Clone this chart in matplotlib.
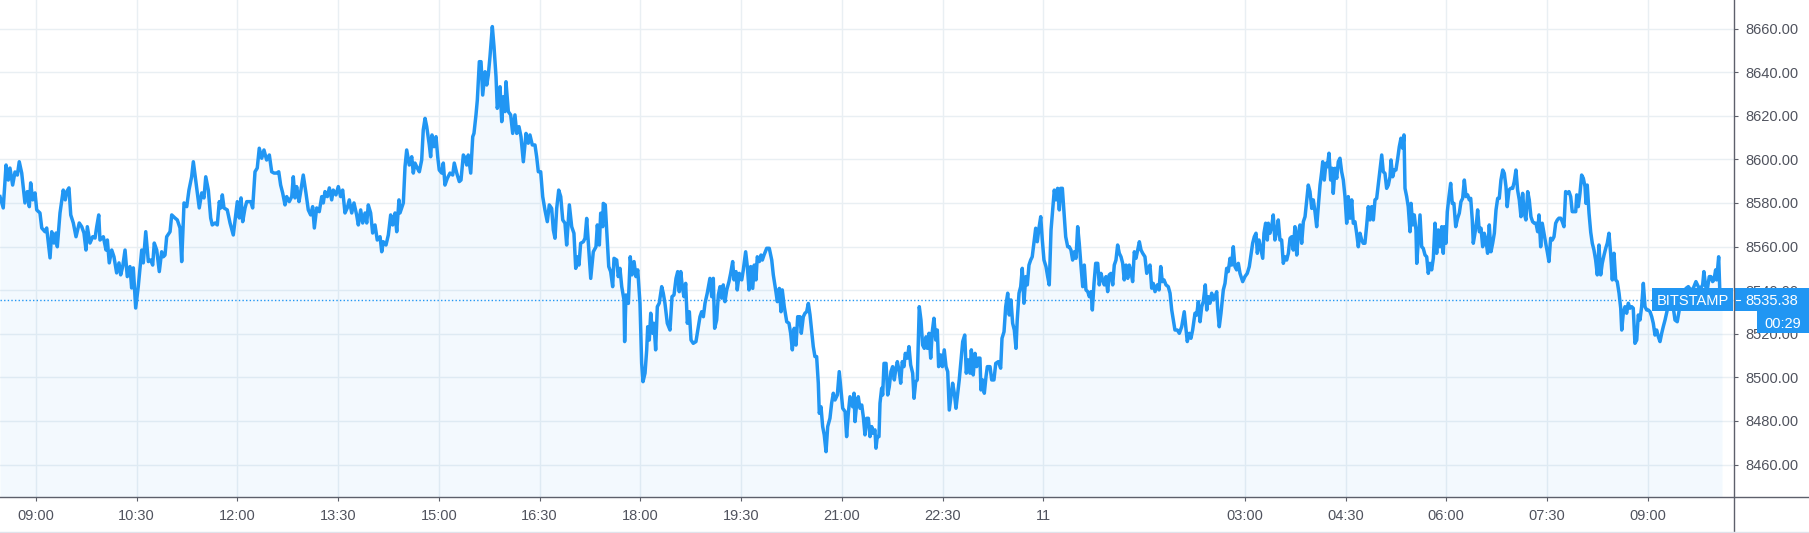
import matplotlib.pyplot as plt
import matplotlib.transforms as mtransforms
from matplotlib.patches import Rectangle
from matplotlib.lines import Line2D

# minutes after 08:28 on the 10th, BTC/USD price (Bitstamp)
minutes = [
    0, 2.9, 5.4, 7.4, 8.9, 11.3, 13.4, 15.5, 17.2, 19.4,
    22.3, 24.4, 26.2, 27.4, 29.2, 31.3, 32.8, 35.7, 37.3, 40.2,
    41.7, 44.7, 46.2, 48.2, 50.0, 51.2, 53.6, 56.5, 58.3, 59.6,
    61.6, 63.2, 65.5, 67.9, 70.8, 73.0, 75.0, 76.8, 78.0, 80.4,
    82.8, 84.9, 86.4, 88.2, 89.3, 92.3, 94.7, 95.9, 97.6, 99.8,
    101.8, 104.2, 106.3, 107.8, 109.6, 111.7, 113.7, 116.1, 117.6, 119.1,
    121.2, 123.5, 126.6, 128.0, 130.2, 132.5, 134.6, 136.4, 137.8, 140.0,
    142.3, 144.4, 145.9, 147.4, 148.9, 151.9, 153.4, 156.3, 158.4, 160.8,
    162.3, 164.4, 166.8, 168.8, 171.2, 172.7, 175.1, 178.0, 180.2, 182.2,
    183.8, 186.1, 188.2, 189.6, 192.1, 194.1, 195.9, 197.2, 198.6, 200.1,
    203.0, 205.5, 208.4, 210.8, 212.0, 213.8, 215.3, 216.8, 218.9, 220.4,
    224.0, 225.7, 227.8, 229.8, 231.6, 233.8, 235.8, 238.2, 240.6, 242.7,
    244.8, 247.2, 249.0, 250.7, 252.5, 254.6, 256.1, 258.4, 260.6, 262.0,
    263.5, 265.0, 267.1, 268.6, 270.9, 273.3, 275.4, 277.5, 279.3, 280.8,
    282.9, 285.2, 287.4, 288.8, 290.3, 292.4, 294.2, 296.3, 297.7, 300.1,
    302.2, 304.3, 306.1, 308.2, 310.2, 312.0, 314.2, 316.2, 318.6, 320.1,
    322.2, 324.0, 326.1, 327.6, 329.0, 331.1, 332.9, 335.0, 337.0, 339.5,
    341.0, 342.4, 344.8, 346.9, 349.0, 350.8, 352.9, 354.4, 356.4,
    357.3, 360.3, 361.8, 363.3, 365.6, 367.8, 369.2, 370.7, 372.8, 374.6,
    376.7, 378.1, 379.7, 381.2, 383.5, 384.7, 385.9, 387.7, 389.5, 391.0,
    392.4, 394.6, 396.0, 397.5, 399.6, 402.0, 404.4, 405.8, 408.0, 410.3,
    411.8, 413.9, 415.6, 416.9, 418.3, 420.5, 422.3, 423.4, 425.2, 426.4,
    428.2, 429.7, 431.2, 433.3, 434.8, 436.2, 437.7, 439.8, 441.3, 443.1,
    444.2, 445.8, 446.7, 448.2, 449.6, 451.1, 452.0, 454.1, 456.2, 458.0,
    460.0, 461.6, 463.6, 465.4, 467.5, 469.9, 471.9, 473.4, 475.5, 477.9,
    479.4, 480.9, 483.0, 484.8, 486.8, 488.9, 490.7, 492.8, 494.3, 495.8,
    497.3, 499.1, 500.9, 502.7, 504.7, 506.2, 508.6, 510.7, 512.7, 514.3,
    515.7, 517.2, 518.7, 521.1, 522.6, 524.1, 525.5, 527.7, 530.0, 532.4,
    533.6, 535.4, 536.6, 538.4, 538.9, 540.7, 542.5, 543.8, 545.5, 547.3,
    548.5, 550.9, 552.3, 553.8, 555.4, 557.4, 558.0, 559.2, 561.3, 563.0,
    564.6, 566.4, 568.1, 569.7, 571.7, 573.2, 574.4, 576.2, 577.7, 578.6,
    580.0, 581.3, 583.0, 584.2, 585.7, 587.2, 588.9, 591.1, 592.5, 594.0,
    596.1, 598.5, 600.3, 602.1, 603.9, 605.4, 606.8, 608.1, 609.5, 611.0,
    612.5, 614.0, 615.8, 617.3, 619.3, 621.7, 623.8, 625.3, 626.8, 628.3,
    629.8, 631.8, 634.2, 635.8, 637.2, 638.4, 640.2, 641.7, 643.2, 644.7,
    646.1, 647.6, 649.2, 651.2, 652.7, 654.5, 655.7, 657.5, 658.6, 660.4,
    662.6, 664.0, 666.1, 667.6, 669.1, 670.6, 672.4, 673.8, 675.3, 676.5,
    678.3, 679.8, 681.0, 682.5, 684.9, 687.2, 689.4, 690.8, 692.9, 694.4,
    696.2, 697.7, 698.8, 700.6, 702.8, 704.8, 706.3, 707.8, 709.5, 711.1,
    712.6, 714.6, 715.8, 717.6, 719.1, 720.6, 722.1, 723.6, 725.1, 726.5,
    728.0, 729.5, 731.0, 731.9, 733.4, 734.9, 736.3, 737.9, 739.4, 741.4,
    742.9, 744.4, 745.9, 748.0, 749.7, 751.3, 752.8, 754.9, 756.3, 757.8, 759.3,
    761.7, 762.9, 763.8, 765.3, 766.7, 768.2, 769.8, 771.2, 772.7, 774.2,
    775.7, 777.2, 778.7, 780.1, 781.6, 782.5, 783.7, 785.2, 786.1, 787.6,
    788.5, 789.7, 791.5, 793.0, 794.4, 795.9, 797.4, 798.9, 800.1, 801.6,
    803.3, 804.6, 806.0, 807.5, 808.7, 810.5, 812.0, 813.5, 815.3, 816.5,
    818.0, 819.4, 821.2, 822.7, 824.2, 825.7, 827.2, 828.4, 829.9, 831.4,
    832.8, 834.3, 835.9, 837.3, 838.5, 840.3, 841.8, 843.5, 845.1, 846.6,
    848.0, 849.5, 851.0, 852.5, 854.0, 855.5, 856.9, 858.5, 860.0, 861.8,
    863.2, 865.0, 866.5, 867.7, 869.4, 871.0, 872.5, 873.9, 875.4, 876.3,
    877.8, 879.3, 880.8, 882.0, 884.4, 885.9, 887.9, 889.5, 891.8, 893.9,
    895.1, 896.9, 898.4, 900.2, 901.6, 903.1, 904.6, 906.1, 907.6, 908.7,
    910.3, 911.8, 913.2, 914.7, 916.3, 917.7, 919.2, 920.7, 922.1, 923.6,
    925.2, 926.6, 928.1, 929.7, 931.1, 932.6, 934.4, 935.9, 937.3, 938.9,
    940.4, 941.8, 943.3, 944.8, 946.3, 947.5, 949.0, 950.5, 952.0, 953.8,
    955.2, 956.7, 958.2, 959.7, 961.2, 962.7, 964.1, 965.7, 967.2, 968.6,
    970.1, 971.7, 973.1, 974.6, 975.8, 977.3, 978.8, 980.6, 982.0, 983.5,
    985.0, 986.5, 988.0, 989.5, 990.9, 992.5, 994.0, 995.4, 996.9, 998.4,
    999.9, 1001.4, 1002.9, 1004.3, 1005.9, 1007.4, 1008.8, 1010.3, 1011.8, 1013.3,
    1014.8, 1016.3, 1017.8, 1019.3, 1020.8, 1022.8, 1024.4, 1025.8, 1027.3, 1028.8,
    1030.2, 1031.8, 1033.8, 1035.4, 1036.9, 1038.3, 1039.8, 1041.6, 1043.6, 1045.2,
    1046.7, 1048.1, 1049.6, 1051.7, 1053.5, 1055.6, 1057.9, 1059.5, 1060.6, 1062.4,
    1063.9, 1065.4, 1067.5, 1069.0, 1070.5, 1072.0, 1073.5, 1074.9, 1076.7, 1078.0,
    1079.4, 1080.9, 1082.4, 1083.9, 1085.4, 1086.9, 1087.8, 1089.2, 1090.7, 1092.8,
    1094.3, 1095.8, 1097.2, 1098.8, 1100.3, 1101.7, 1103.2, 1104.7, 1106.2, 1107.7,
    1110.1, 1112.1, 1114.2, 1116.0, 1117.5, 1119.0, 1120.5, 1122.0, 1123.2, 1124.7,
    1126.2, 1128.0, 1129.1, 1130.6, 1132.1, 1133.0, 1134.5, 1136.0, 1137.4, 1138.9,
    1140.4, 1141.9, 1143.4, 1144.9, 1146.4, 1147.9, 1149.4, 1150.9, 1152.4, 1153.9,
    1155.3, 1156.8, 1158.4, 1159.8, 1161.3, 1162.8, 1164.3, 1165.8, 1167.3, 1168.7,
    1170.2, 1171.8, 1173.2, 1174.7, 1176.2, 1177.6, 1179.2, 1180.7, 1181.6, 1183.0,
    1184.5, 1185.7, 1187.2, 1188.7, 1190.1, 1191.0, 1192.6, 1194.1, 1195.5, 1197.0,
    1198.5, 1200.0, 1201.5, 1203.0, 1204.4, 1206.0, 1207.5, 1208.9, 1210.4, 1211.9,
    1213.4, 1214.9, 1216.4, 1217.8, 1219.3, 1220.9, 1222.3, 1223.8, 1225.3, 1226.8,
    1228.3, 1229.8, 1231.2, 1232.8, 1234.3, 1235.7, 1237.2, 1238.7, 1240.2, 1241.7,
    1242.6, 1244.1, 1245.5, 1247.0, 1248.6, 1250.0, 1251.5, 1253.0, 1254.2, 1255.1,
    1256.6, 1258.0, 1259.6, 1260.5, 1262.0, 1263.4, 1264.9, 1265.6, 1267.0, 1268.5,
    1270.0, 1271.4, 1273.0, 1274.5, 1275.9, 1277.4, 1278.9, 1280.4, 1281.9, 1283.4,
    1284.8, 1286.4, 1287.9, 1289.3, 1290.2, 1291.7, 1292.9, 1294.4, 1295.9, 1297.3,
    1298.8, 1300.4, 1302.1, 1303.6, 1305.1, 1306.6, 1308.1, 1309.6, 1311.1, 1312.5,
    1313.8, 1315.2, 1316.1, 1317.6, 1319.2, 1320.0, 1321.5, 1323.0, 1324.5, 1325.9,
    1327.4, 1328.9, 1330.4, 1331.9, 1333.4, 1334.9, 1336.4, 1337.9, 1339.3, 1340.8,
    1342.4, 1343.8, 1345.3, 1346.4, 1348.0, 1349.5, 1351.3, 1352.7, 1354.2, 1355.7,
    1357.2, 1358.7, 1360.2, 1361.6, 1363.1, 1364.7, 1366.1, 1367.6, 1369.1, 1370.6,
    1372.1, 1373.6, 1374.8, 1376.3, 1377.7, 1379.2, 1380.8, 1382.2, 1383.7, 1385.2,
    1386.7, 1388.2, 1389.7, 1391.2, 1392.6, 1394.2, 1395.6, 1397.1, 1398.6, 1400.1,
    1401.6, 1403.1, 1404.5, 1406.1, 1407.6, 1408.5, 1409.9, 1411.4, 1412.9, 1414.4,
    1415.9, 1416.8, 1417.9, 1419.5, 1421.0, 1422.4, 1423.9, 1425.4, 1426.9, 1428.4,
    1429.9, 1431.3, 1432.9, 1434.4, 1435.8, 1437.3, 1438.8, 1440.3, 1441.8, 1443.3,
    1444.7, 1446.3, 1447.8, 1448.7, 1450.1, 1451.6, 1453.1, 1454.6, 1456.1, 1457.6,
    1459.0, 1460.5, 1462.1, 1463.5, 1465.0, 1466.5, 1468.0, 1469.5, 1471.0, 1472.4,
    1474.0, 1475.5, 1476.9, 1478.4, 1479.9, 1481.4, 1482.9, 1484.4, 1485.8, 1487.4,
    1489.4, 1491.8, 1494.2, 1496.3, 1498.3, 1500.1, 1502.3, 1504.3, 1506.1, 1508.2,
    1510.3, 1512.6, 1515.0, 1517.1, 1519.2, 1521.0, 1522.1, 1523.7, 1525.1, 1526.9,
    1528.4, 1529.9, 1531.1, 1532.6, 1533.5, 1535.3, 1536.4, 1538.3,
]

price = [
    8582.9, 8577.7, 8597.4, 8590.5, 8596.0, 8588.2, 8594.2, 8592.8, 8598.9, 8593.7,
    8580.0, 8585.2, 8578.3, 8589.2, 8581.4, 8584.6, 8576.8, 8575.4, 8568.5, 8566.8,
    8568.5, 8554.8, 8566.8, 8561.6, 8566.2, 8559.9, 8575.4, 8585.9, 8581.4, 8585.2,
    8586.9, 8574.5, 8570.8, 8564.5, 8570.8, 8569.1, 8566.2, 8558.4, 8569.1, 8561.6,
    8564.5, 8563.9, 8569.1, 8574.5, 8563.0, 8564.5, 8558.4, 8563.0, 8552.5, 8558.4,
    8555.3, 8547.9, 8552.5, 8547.0, 8550.8, 8558.4, 8546.2, 8550.8, 8541.0, 8550.2,
    8531.8, 8541.6, 8558.4, 8552.5, 8566.8, 8553.1, 8553.8, 8551.5, 8561.6, 8558.4,
    8548.5, 8557.6, 8555.3, 8556.1, 8564.5, 8566.8, 8574.5, 8573.1, 8572.2, 8568.5,
    8553.1, 8580.0, 8578.3, 8585.9, 8592.0, 8598.9, 8589.2, 8577.7, 8584.6, 8582.3,
    8592.0, 8585.9, 8573.1, 8569.9, 8570.8, 8569.9, 8580.6, 8577.7, 8583.7, 8577.7,
    8576.8, 8570.8, 8565.3, 8575.4, 8580.6, 8573.1, 8582.3, 8571.4, 8577.7, 8580.6,
    8580.6, 8577.7, 8594.3, 8596.0, 8605.1, 8600.5, 8604.3, 8599.7, 8602.0, 8594.3,
    8593.7, 8593.7, 8594.3, 8588.2, 8584.6, 8579.1, 8582.9, 8580.6, 8582.9, 8592.0,
    8582.3, 8587.5, 8580.6, 8585.2, 8592.8, 8584.6, 8576.8, 8574.5, 8578.3, 8568.5,
    8577.7, 8576.0, 8582.9, 8580.0, 8585.2, 8582.9, 8586.9, 8581.4, 8585.9, 8583.7,
    8587.5, 8582.9, 8585.9, 8575.4, 8577.7, 8581.4, 8575.4, 8580.0, 8574.5, 8569.9,
    8576.8, 8570.8, 8575.4, 8570.8, 8579.1, 8575.4, 8566.2, 8569.9, 8563.0, 8564.5,
    8557.6, 8562.2, 8560.7, 8565.3, 8574.5, 8569.9, 8575.4, 8566.8, 8581.4,
    8575.4, 8580.0, 8596.6, 8604.3, 8597.4, 8601.2, 8593.7, 8598.3, 8596.0, 8594.3,
    8599.7, 8613.5, 8618.8, 8615.0, 8606.6, 8601.2, 8611.2, 8605.8, 8610.4, 8601.2,
    8595.1, 8593.7, 8598.3, 8588.2, 8591.3, 8593.7, 8592.8, 8598.3, 8593.7, 8589.8,
    8590.5, 8602.0, 8600.5, 8597.4, 8602.0, 8593.7, 8610.4, 8611.9, 8620.4, 8627.2,
    8644.8, 8644.8, 8629.5, 8640.2, 8634.1, 8638.7, 8647.1, 8660.9, 8651.7, 8637.9,
    8623.4, 8627.2, 8633.3, 8617.3, 8628.7, 8621.9, 8635.6, 8621.9, 8620.4, 8611.9,
    8620.4, 8611.9, 8615.0, 8610.4, 8598.9, 8611.9, 8607.4, 8611.2, 8606.6, 8606.6,
    8601.2, 8594.3, 8594.3, 8582.9, 8576.8, 8571.4, 8579.1, 8577.5, 8567.6, 8563.8,
    8577.5, 8585.9, 8582.9, 8572.2, 8570.7, 8560.7, 8579.1, 8569.1, 8566.1, 8550.0,
    8555.3, 8551.5, 8561.5, 8562.2, 8563.8, 8572.9, 8562.2, 8545.4, 8557.6, 8559.9,
    8569.9, 8560.7, 8575.3, 8569.1, 8579.8, 8579.1, 8563.0, 8550.8, 8548.5, 8541.6,
    8554.6, 8553.8, 8546.2, 8550.0, 8541.6, 8535.5, 8516.4, 8537.8, 8533.9, 8555.3,
    8547.0, 8553.1, 8546.2, 8549.3, 8534.0, 8506.4, 8498.0, 8501.9, 8512.6, 8523.2,
    8517.1, 8529.4, 8520.2, 8524.8, 8512.6, 8532.4, 8534.0, 8541.6, 8538.6, 8534.0,
    8524.8, 8521.7, 8537.0, 8537.8, 8545.4, 8548.5, 8539.3, 8548.5, 8541.6, 8537.0,
    8543.1, 8524.8, 8530.1, 8517.1, 8515.6, 8516.4, 8523.2, 8527.8, 8530.1, 8527.8,
    8534.0, 8538.6, 8545.4, 8537.0, 8545.4, 8522.5, 8526.3, 8537.8, 8541.6, 8536.3,
    8542.4, 8534.7, 8540.1, 8543.9, 8547.7, 8553.1, 8544.7, 8548.5, 8540.1, 8547.7,
    8544.7, 8549.3, 8557.6, 8550.8, 8540.1, 8550.8, 8540.8, 8551.5, 8544.7, 8555.3,
    8553.1, 8556.1, 8553.8, 8556.1, 8559.2, 8559.2, 8553.8, 8547.0, 8540.1, 8534.7,
    8540.8, 8530.1, 8540.1, 8532.4, 8525.5, 8524.8, 8520.2, 8512.6, 8522.5, 8514.8,
    8527.8, 8527.8, 8520.2, 8527.8, 8529.4, 8530.1, 8533.9, 8528.6, 8520.9, 8514.1,
    8509.5, 8509.5, 8497.3, 8483.5, 8486.5, 8477.4, 8473.6, 8465.9, 8477.4, 8481.2,
    8488.1, 8492.7, 8489.6, 8491.9, 8502.6, 8493.7, 8485.8, 8484.3, 8472.8, 8483.5, 8491.1,
    8486.5, 8492.7, 8479.7, 8488.1, 8491.1, 8485.8, 8487.3, 8481.9, 8473.6, 8481.2,
    8481.2, 8472.8, 8477.4, 8474.3, 8475.9, 8467.5, 8472.8, 8472.8, 8488.1, 8495.0,
    8491.9, 8506.4, 8506.4, 8491.9, 8495.7, 8502.6, 8504.9, 8498.8, 8503.4, 8507.2,
    8502.6, 8497.3, 8507.2, 8504.9, 8511.0, 8508.8, 8514.1, 8505.7, 8501.9, 8490.4,
    8498.0, 8498.8, 8532.4, 8526.3, 8514.8, 8513.3, 8518.6, 8513.3, 8520.2, 8508.8,
    8520.9, 8527.1, 8517.1, 8521.7, 8504.9, 8510.3, 8504.9, 8512.6, 8504.9, 8502.6,
    8485.0, 8491.1, 8497.3, 8492.7, 8485.8, 8492.7, 8498.8, 8508.0, 8516.4, 8519.4,
    8501.9, 8508.0, 8501.9, 8512.6, 8501.1, 8511.0, 8504.9, 8508.8, 8508.8, 8494.2,
    8498.8, 8492.7, 8500.3, 8504.9, 8504.9, 8498.8, 8498.8, 8506.4, 8507.2, 8504.2,
    8517.9, 8520.9, 8532.4, 8538.6, 8528.6, 8535.5, 8524.8, 8521.7, 8513.3, 8526.3,
    8538.6, 8541.6, 8550.0, 8534.0, 8546.2, 8542.4, 8551.5, 8553.8, 8555.3, 8561.5,
    8568.4, 8562.2, 8568.4, 8573.7, 8563.0, 8553.8, 8550.8, 8546.2, 8542.4, 8567.6,
    8576.8, 8585.9, 8581.4, 8586.7, 8576.8, 8586.7, 8586.7, 8575.3, 8564.5, 8559.9,
    8559.9, 8558.4, 8553.8, 8557.6, 8554.6, 8569.1, 8561.5, 8550.8, 8541.6, 8551.5,
    8540.1, 8539.3, 8537.0, 8539.3, 8530.9, 8543.1, 8552.3, 8552.3, 8542.4, 8547.7,
    8544.7, 8542.4, 8546.2, 8539.3, 8547.0, 8547.7, 8542.4, 8551.5, 8553.8, 8560.7,
    8556.9, 8555.3, 8552.3, 8544.7, 8551.5, 8545.4, 8551.5, 8548.5, 8543.9, 8557.6,
    8554.6, 8558.4, 8562.2, 8558.4, 8556.9, 8555.3, 8547.7, 8550.0, 8551.5, 8540.9,
    8543.1, 8539.3, 8542.4, 8540.1, 8550.8, 8543.9, 8544.7, 8542.4, 8541.6, 8538.6,
    8530.9, 8526.3, 8521.7, 8521.7, 8520.2, 8523.2, 8530.1, 8521.7, 8516.4, 8520.2,
    8517.9, 8521.7, 8529.4, 8528.6, 8534.7, 8525.5, 8532.4, 8534.7, 8542.4, 8530.9,
    8537.0, 8534.0, 8538.6, 8535.5, 8537.0, 8539.3, 8530.9, 8523.2, 8529.4, 8540.1,
    8543.1, 8550.0, 8548.5, 8554.6, 8551.5, 8559.9, 8550.8, 8549.3, 8552.3, 8547.7,
    8543.9, 8546.2, 8547.7, 8550.8, 8556.1, 8561.5, 8564.5, 8566.1, 8556.9, 8563.0,
    8559.2, 8554.6, 8566.1, 8570.7, 8563.0, 8570.7, 8566.1, 8569.1, 8574.5, 8563.0,
    8566.8, 8572.2, 8563.0, 8563.0, 8552.3, 8555.3, 8553.8, 8556.9, 8563.8, 8564.5,
    8558.4, 8569.1, 8556.1, 8566.1, 8569.9, 8561.5, 8571.4, 8573.7, 8581.4, 8588.2,
    8585.2, 8577.5, 8581.4, 8576.0, 8569.1, 8578.3, 8588.2, 8594.3, 8598.9, 8590.5,
    8598.2, 8596.6, 8602.8, 8590.5, 8595.9, 8584.4, 8595.9, 8591.3, 8598.9, 8600.5,
    8594.3, 8590.5, 8582.9, 8570.7, 8582.9, 8573.0, 8581.4, 8570.7, 8571.4, 8566.1,
    8559.9, 8566.1, 8563.0, 8561.5, 8561.5, 8569.9, 8578.3, 8572.2, 8578.3, 8572.2,
    8581.4, 8582.1, 8588.2, 8595.1, 8602.0, 8594.3, 8593.6, 8586.7, 8588.2, 8592.0,
    8599.7, 8592.0, 8595.1, 8595.1, 8600.5, 8605.8, 8609.7, 8605.1, 8611.2, 8586.7,
    8582.9, 8578.3, 8566.8, 8579.8, 8569.9, 8574.5, 8567.6, 8552.3, 8563.0, 8574.5,
    8559.9, 8559.2, 8556.1, 8555.3, 8547.7, 8552.3, 8549.3, 8554.6, 8570.7, 8556.9,
    8567.6, 8559.9, 8569.1, 8556.9, 8569.1, 8561.5, 8576.0, 8582.9, 8589.0, 8579.8,
    8579.8, 8569.1, 8573.0, 8575.3, 8580.6, 8582.1, 8590.5, 8582.9, 8583.7, 8581.4,
    8582.1, 8572.2, 8561.5, 8566.1, 8572.2, 8576.8, 8566.8, 8568.4, 8559.9, 8566.1,
    8563.0, 8556.9, 8569.9, 8557.6, 8561.5, 8566.1, 8576.8, 8582.1, 8582.1, 8590.5,
    8595.1, 8593.6, 8587.5, 8578.3, 8585.9, 8586.7, 8586.7, 8589.8, 8595.1, 8585.9,
    8581.4, 8573.7, 8584.4, 8575.3, 8572.2, 8585.2, 8581.4, 8573.7, 8571.4, 8570.7,
    8570.7, 8566.8, 8574.5, 8559.9, 8570.7, 8566.1, 8561.5, 8557.6, 8553.1, 8563.8,
    8563.0, 8564.5, 8570.7, 8572.2, 8573.0, 8573.0, 8571.4, 8569.1, 8585.2, 8584.4,
    8585.2, 8582.9, 8576.0, 8576.0, 8576.0, 8583.7, 8578.3, 8584.4, 8592.8, 8591.3,
    8587.5, 8579.8, 8588.2, 8575.3, 8566.6, 8561.5, 8558.4, 8553.8, 8547.0, 8560.7,
    8547.0, 8552.3, 8556.1, 8559.2, 8561.5, 8566.1, 8556.9, 8544.7, 8556.9, 8544.7,
    8543.9, 8538.6, 8531.7, 8521.7, 8529.4, 8532.4, 8529.4, 8534.0, 8531.7, 8532.4,
    8531.7, 8515.6, 8517.1, 8528.6, 8526.3, 8532.4, 8543.1, 8532.4, 8530.9, 8530.9,
    8530.1, 8527.8, 8524.8, 8519.4, 8521.7, 8518.6, 8516.4, 8520.2, 8523.2, 8526.3,
    8530.9, 8533.2, 8534.0, 8526.3, 8525.5, 8530.9, 8533.2, 8535.5, 8540.8, 8541.6,
    8540.1, 8540.8, 8543.9, 8541.6, 8540.8, 8542.4, 8548.5, 8541.6, 8540.1, 8546.2,
    8546.2, 8543.9, 8544.7, 8549.3, 8544.7, 8555.3, 8538.6, 8535.38,
]

tick_minutes = [32, 122, 212, 302, 392, 482, 572, 662, 752, 842, 932,
                1112, 1202, 1292, 1382, 1472]
tick_labels = ['09:00', '10:30', '12:00', '13:30', '15:00', '16:30', '18:00',
               '19:30', '21:00', '22:30', '11', '03:00', '04:30', '06:00',
               '07:30', '09:00']
price_ticks = [8460, 8480, 8500, 8520, 8540, 8560, 8580, 8600, 8620, 8640, 8660]
exchange = 'BITSTAMP'
countdown = '00:29'

assert len(minutes) == len(price)

BLUE = '#2196f3'
GRID = '#e9eff3'
AXIS = '#5d606b'
TEXT = '#50535e'

plt.rcParams['font.family'] = ['Liberation Sans', 'DejaVu Sans']

W, H = 1809, 533
fig = plt.figure(figsize=(W / 100, H / 100), dpi=100)
ax = fig.add_axes([0, 36 / H, 1734 / W, 497 / H])

y_lo, y_hi = 8445.1, 8673.1
ax.set_xlim(0, 1549)
ax.set_ylim(y_lo, y_hi)

ax.fill_between(minutes, price, y_lo, color=BLUE, alpha=0.05, lw=0, zorder=1)
ax.plot(minutes, price, color=BLUE, lw=2.5, zorder=3)

last = price[-1]
ax.axhline(last, color=BLUE, lw=1, ls=(0, (1, 1.6)), zorder=2)

ax.set_xticks(tick_minutes)
ax.set_xticklabels(tick_labels)
ax.set_yticks(price_ticks)
ax.set_yticklabels([f'{p:.2f}' for p in price_ticks])
ax.yaxis.tick_right()
ax.grid(True, color=GRID, lw=1, zorder=0)
ax.set_axisbelow(True)
ax.tick_params(axis='x', direction='out', length=3, width=0.8, color=AXIS,
               labelsize=10.5, labelcolor=TEXT, pad=6)
ax.tick_params(axis='y', direction='out', length=3, width=0.8, color=AXIS,
               labelsize=10.5, labelcolor=TEXT, pad=5)
for s in ax.spines.values():
    s.set_visible(False)

# axis lines run to the edges of the figure
fig.add_artist(Line2D([0, 1], [36 / H, 36 / H], transform=fig.transFigure,
                      color=AXIS, lw=1))
fig.add_artist(Line2D([1734 / W, 1734 / W], [0, 1], transform=fig.transFigure,
                      color=AXIS, lw=1))
fig.add_artist(Line2D([0, 1], [1.5 / H, 1.5 / H], transform=fig.transFigure,
                      color='#e0e3eb', lw=1))

# last price labels
trans = mtransforms.blended_transform_factory(ax.transAxes, ax.transData)
box_h = 10.55
y0 = last - 4.8
ax.add_patch(Rectangle((1652 / 1734, y0), 81 / 1734, box_h, transform=trans,
                       color=BLUE, lw=0, clip_on=False, zorder=6))
ax.add_patch(Rectangle((1.0, y0), 75 / 1734, box_h, transform=trans,
                       color=BLUE, lw=0, clip_on=False, zorder=6))
ax.add_patch(Rectangle((1757 / 1734, y0 - 10.4), 52 / 1734, 10.4, transform=trans,
                       color=BLUE, lw=0, clip_on=False, zorder=6))
ax.plot([1736 / 1734, 1740 / 1734], [last, last], transform=trans, color='white',
        lw=0.8, clip_on=False, zorder=7)
ax.text(1692.5 / 1734, y0 + box_h / 2, exchange, transform=trans, color='white',
        fontsize=10.5, ha='center', va='center_baseline', zorder=7)
ax.text(1745 / 1734, y0 + box_h / 2, f'{last:.2f}', transform=trans, color='white',
        fontsize=10.5, ha='left', va='center_baseline', zorder=7)
ax.text(1783 / 1734, y0 - 5.2, countdown, transform=trans, color='white',
        fontsize=10.5, ha='center', va='center_baseline', zorder=7)

fig.savefig('out.png', dpi=100)
